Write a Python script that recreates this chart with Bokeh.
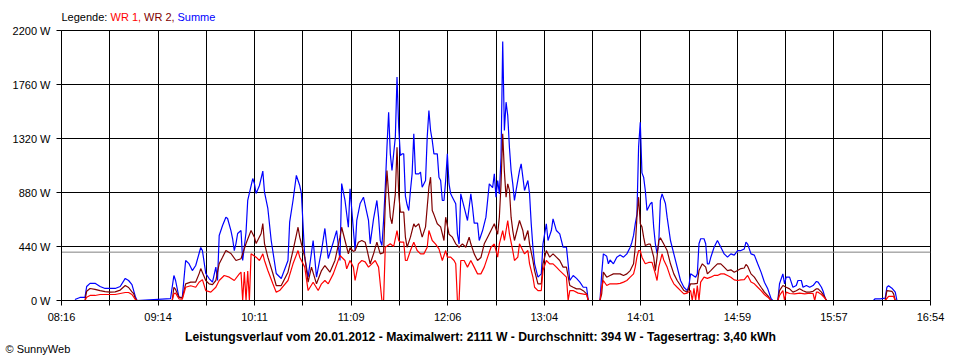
from bokeh.plotting import figure
from bokeh.models import Range1d, FixedTicker, CustomJSTickFormatter, Label, Span
from bokeh.embed import file_html
from bokeh.resources import INLINE

# ---------------- data ----------------
X_LABELS = ["08:16", "09:14", "10:11", "11:09", "12:06", "13:04", "14:01", "14:59", "15:57", "16:54"]
X_START, X_END = "08:16", "16:54"
X_GRID_STEPS = 18
Y_TICKS = [0, 440, 880, 1320, 1760, 2200]
Y_LABELS = ["0 W", "440 W", "880 W", "1320 W", "1760 W", "2200 W"]

DATE = "20.01.2012"
MAX_W = 2111
AVERAGE_W = 394
ENERGY_KWH = "3,40"

T_SUMME = ["08:24", "08:27", "08:30", "08:31", "08:33", "08:36", "08:39", "08:42", "08:45", "08:48",
           "08:51", "08:54", "08:56", "08:58", "09:00", "09:01", "09:21", "09:23", "09:24", "09:26",
           "09:28", "09:30", "09:32", "09:34", "09:36", "09:38", "09:39", "09:40", "09:42", "09:44",
           "09:46", "09:48", "09:49", "09:50", "09:52", "09:54", "09:55", "09:57", "09:58", "09:59",
           "10:00", "10:01", "10:03", "10:04", "10:06", "10:07", "10:10", "10:11", "10:12", "10:14",
           "10:16", "10:17", "10:19", "10:21", "10:24", "10:27", "10:31", "10:32", "10:34", "10:36",
           "10:38", "10:39", "10:41", "10:43", "10:46", "10:48", "10:51", "10:53", "10:55", "10:58",
           "11:00", "11:02", "11:03", "11:05", "11:07", "11:08", "11:11", "11:12", "11:14", "11:16",
           "11:19", "11:20", "11:22", "11:24", "11:25", "11:26", "11:27", "11:28", "11:29", "11:30",
           "11:31", "11:32", "11:33", "11:34", "11:35", "11:36", "11:37", "11:38", "11:39", "11:40",
           "11:41", "11:42", "11:43", "11:44", "11:45", "11:46", "11:47", "11:49", "11:50", "11:51",
           "11:53", "11:54", "11:55", "11:56", "11:57", "11:58", "12:00", "12:01", "12:02", "12:03",
           "12:04", "12:05", "12:06", "12:07", "12:08", "12:09", "12:11", "12:12", "12:13", "12:14",
           "12:16", "12:18", "12:20", "12:21", "12:22", "12:24", "12:25", "12:27", "12:29", "12:30",
           "12:31", "12:33", "12:34", "12:35", "12:36", "12:37", "12:38", "12:39", "12:40", "12:41",
           "12:42", "12:43", "12:44", "12:45", "12:46", "12:47", "12:48", "12:49", "12:50", "12:51",
           "12:52", "12:54", "12:55", "12:56", "12:57", "12:58", "13:00", "13:02", "13:03", "13:05",
           "13:06", "13:08", "13:09", "13:11", "13:13", "13:15", "13:17", "13:18", "13:19", "13:21",
           "13:23", "13:25", "13:27", "13:29", "13:30", "13:37", "13:38", "13:39", "13:41", "13:42",
           "13:43", "13:45", "13:47", "13:49", "13:51", "13:53", "13:55", "13:56", "13:57", "13:58",
           "13:59", "14:00", "14:01", "14:02", "14:03", "14:04", "14:05", "14:07", "14:08", "14:09",
           "14:10", "14:11", "14:12", "14:13", "14:14", "14:16", "14:17", "14:19", "14:21", "14:23",
           "14:25", "14:27", "14:29", "14:30", "14:31", "14:34", "14:35", "14:36", "14:37", "14:39",
           "14:40", "14:41", "14:42", "14:43", "14:45", "14:47", "14:48", "14:50", "14:51", "14:53",
           "14:55", "14:57", "14:59", "15:01", "15:03", "15:04", "15:05", "15:07", "15:09", "15:11",
           "15:13", "15:15", "15:17", "15:19", "15:20", "15:23", "15:24", "15:26", "15:27", "15:28",
           "15:30", "15:32", "15:34", "15:35", "15:37", "15:38", "15:40", "15:42", "15:44", "15:46",
           "15:47", "15:49", "15:50", "15:51", "15:52", "16:20", "16:21", "16:24", "16:27", "16:28",
           "16:29", "16:31", "16:33", "16:34"]
SUMME = [8, 25, 25, 114, 140, 140, 114, 98, 98, 98,
         114, 180, 163, 130, 33, 0, 16, 204, 163, 27,
         24, 326, 300, 244, 285, 383, 432, 407, 220, 179,
         149, 272, 163, 530, 611, 679, 668, 570, 503, 407,
         464, 546, 570, 326, 556, 815, 994, 953, 872, 937,
         1054, 883, 750, 489, 220, 179, 326, 638, 815, 1019,
         937, 872, 353, 190, 489, 190, 407, 587, 342, 475,
         570, 326, 953, 815, 597, 910, 407, 652, 790, 842,
         652, 462, 665, 815, 679, 489, 448, 652, 923, 1249,
         1534, 1195, 1059, 1198, 1330, 1820, 1412, 1181, 1195, 1195,
         850, 780, 733, 896, 1032, 1358, 1032, 1032, 1046, 923,
         978, 1331, 1548, 1385, 1304, 1195, 1195, 1005, 978, 815,
         815, 978, 1195, 950, 869, 842, 788, 543, 460, 869,
         760, 652, 869, 760, 630, 630, 489, 570, 679, 815,
         951, 920, 1032, 842, 978, 869, 1168, 2111, 1385, 1616,
         1507, 1249, 1059, 950, 815, 900, 978, 1059, 1114, 1005,
         896, 978, 869, 625, 434, 299, 190, 217, 462, 625,
         489, 570, 665, 570, 543, 434, 434, 299, 163, 204,
         180, 150, 108, 108, 0, 0, 217, 380, 360, 299,
         330, 299, 353, 370, 353, 380, 434, 475, 530, 625,
         700, 1250, 1453, 1040, 1005, 896, 733, 788, 800, 597,
         462, 383, 462, 815, 869, 790, 679, 489, 380, 272,
         163, 108, 81, 122, 217, 190, 217, 462, 503, 503,
         462, 299, 299, 350, 434, 489, 462, 407, 380, 353,
         380, 370, 407, 407, 420, 475, 460, 380, 370, 299,
         231, 149, 95, 14, 0, 0, 136, 217, 136, 190,
         190, 108, 122, 163, 163, 108, 122, 108, 122, 155,
         150, 108, 76, 27, 0, 0, 14, 14, 20, 108,
         120, 100, 68, 0]

T_WR2 = ["08:30", "08:31", "08:33", "08:36", "08:39", "08:42", "08:45", "08:48", "08:51", "08:54",
         "08:56", "08:58", "08:59", "09:00", "09:01", "09:22", "09:23", "09:24", "09:26", "09:28",
         "09:30", "09:33", "09:36", "09:38", "09:39", "09:42", "09:44", "09:46", "09:48", "09:50",
         "09:52", "09:54", "09:57", "10:00", "10:03", "10:06", "10:09", "10:11", "10:12", "10:15",
         "10:16", "10:17", "10:19", "10:22", "10:24", "10:27", "10:31", "10:34", "10:37", "10:38",
         "10:41", "10:43", "10:45", "10:48", "10:51", "10:53", "10:56", "10:59", "11:02", "11:03",
         "11:05", "11:07", "11:08", "11:10", "11:11", "11:13", "11:15", "11:17", "11:18", "11:20",
         "11:22", "11:24", "11:26", "11:28", "11:29", "11:30", "11:31", "11:32", "11:33", "11:35",
         "11:36", "11:37", "11:38", "11:40", "11:41", "11:42", "11:44", "11:46", "11:47", "11:49",
         "11:51", "11:53", "11:55", "11:56", "11:57", "11:58", "12:00", "12:02", "12:04", "12:05",
         "12:07", "12:09", "12:11", "12:13", "12:15", "12:17", "12:19", "12:20", "12:22", "12:24",
         "12:26", "12:28", "12:30", "12:32", "12:34", "12:36", "12:37", "12:38", "12:39", "12:40",
         "12:41", "12:42", "12:43", "12:44", "12:45", "12:46", "12:48", "12:49", "12:51", "12:52",
         "12:54", "12:55", "12:57", "12:58", "13:00", "13:02", "13:03", "13:05", "13:07", "13:09",
         "13:11", "13:13", "13:15", "13:17", "13:19", "13:21", "13:23", "13:25", "13:27", "13:29",
         "13:30", "13:37", "13:38", "13:39", "13:41", "13:43", "13:45", "13:47", "13:49", "13:51",
         "13:53", "13:55", "13:57", "13:58", "13:59", "14:00", "14:01", "14:02", "14:03", "14:04",
         "14:06", "14:07", "14:09", "14:10", "14:11", "14:12", "14:13", "14:15", "14:17", "14:19",
         "14:21", "14:23", "14:25", "14:27", "14:29", "14:31", "14:33", "14:35", "14:36", "14:38",
         "14:40", "14:41", "14:43", "14:45", "14:47", "14:49", "14:51", "14:53", "14:55", "14:57",
         "14:59", "15:01", "15:03", "15:04", "15:05", "15:07", "15:09", "15:11", "15:13", "15:15",
         "15:17", "15:19", "15:23", "15:24", "15:26", "15:28", "15:30", "15:32", "15:34", "15:36",
         "15:38", "15:40", "15:42", "15:44", "15:46", "15:47", "15:49", "15:51", "15:52", "16:27",
         "16:28", "16:31", "16:32", "16:33"]
WR2 = [0, 76, 98, 90, 81, 73, 68, 70, 85, 122,
       106, 70, 57, 16, 0, 0, 108, 90, 27, 20,
       136, 150, 150, 217, 260, 163, 136, 130, 163, 300,
       353, 407, 383, 326, 340, 464, 570, 516, 464, 546,
       627, 464, 353, 220, 122, 122, 231, 407, 597, 516,
       353, 149, 272, 136, 244, 285, 231, 326, 516, 597,
       489, 380, 430, 400, 407, 475, 489, 475, 420, 299,
       380, 475, 380, 390, 788, 1059, 869, 679, 625, 869,
       1249, 869, 720, 720, 516, 434, 516, 625, 600, 625,
       516, 600, 923, 1005, 733, 700, 625, 600, 489, 679,
       540, 516, 462, 434, 462, 434, 516, 462, 380, 326,
       350, 462, 516, 570, 625, 540, 679, 950, 1358, 1050,
       842, 951, 900, 679, 570, 489, 597, 652, 570, 489,
       570, 462, 326, 244, 136, 136, 299, 407, 353, 380,
       353, 326, 272, 272, 122, 108, 95, 95, 80, 54,
       0, 0, 54, 231, 190, 204, 217, 217, 217, 204,
       217, 244, 299, 434, 679, 842, 625, 600, 516, 448,
       460, 460, 353, 244, 353, 489, 510, 460, 407, 299,
       217, 163, 122, 81, 68, 136, 136, 140, 244, 299,
       272, 217, 244, 272, 299, 299, 272, 244, 250, 230,
       244, 260, 265, 293, 280, 217, 190, 149, 108, 68,
       40, 0, 0, 81, 122, 108, 95, 68, 80, 95,
       80, 68, 68, 75, 95, 95, 68, 27, 0, 0,
       81, 75, 54, 0]

T_WR1 = ["08:30", "08:31", "08:33", "08:36", "08:39", "08:42", "08:45", "08:48", "08:51", "08:54",
         "08:56", "08:58", "09:00", "09:01", "09:22", "09:23", "09:24", "09:26", "09:28", "09:30",
         "09:33", "09:36", "09:38", "09:40", "09:42", "09:45", "09:48", "09:50", "09:53", "09:56",
         "09:59", "10:02", "10:03", "10:04", "10:05", "10:06", "10:07", "10:08", "10:09", "10:12",
         "10:14", "10:16", "10:17", "10:19", "10:22", "10:24", "10:26", "10:31", "10:34", "10:37",
         "10:38", "10:41", "10:43", "10:46", "10:49", "10:51", "10:53", "10:55", "10:58", "11:02",
         "11:05", "11:06", "11:08", "11:10", "11:11", "11:13", "11:15", "11:17", "11:19", "11:21",
         "11:23", "11:25", "11:27", "11:28", "11:29", "11:32", "11:34", "11:36", "11:37", "11:38",
         "11:40", "11:41", "11:42", "11:44", "11:46", "11:48", "11:50", "11:52", "11:54", "11:55",
         "11:57", "11:59", "12:01", "12:03", "12:05", "12:06", "12:08", "12:10", "12:11", "12:12",
         "12:13", "12:14", "12:16", "12:18", "12:20", "12:22", "12:24", "12:26", "12:28", "12:30",
         "12:32", "12:34", "12:36", "12:37", "12:39", "12:40", "12:42", "12:43", "12:45", "12:46",
         "12:48", "12:49", "12:51", "12:52", "12:54", "12:55", "12:57", "12:58", "13:00", "13:02",
         "13:03", "13:05", "13:07", "13:09", "13:11", "13:13", "13:15", "13:17", "13:18", "13:19",
         "13:21", "13:24", "13:28", "13:29", "13:30", "13:37", "13:38", "13:39", "13:41", "13:43",
         "13:47", "13:49", "13:51", "13:53", "13:55", "13:57", "13:58", "13:59", "14:00", "14:01",
         "14:02", "14:04", "14:06", "14:08", "14:10", "14:11", "14:12", "14:14", "14:15", "14:17",
         "14:19", "14:21", "14:23", "14:25", "14:27", "14:29", "14:31", "14:32", "14:33", "14:34",
         "14:35", "14:36", "14:37", "14:39", "14:41", "14:43", "14:45", "14:47", "14:49", "14:51",
         "14:53", "14:55", "14:57", "14:59", "15:01", "15:03", "15:05", "15:07", "15:09", "15:11",
         "15:13", "15:15", "15:17", "15:19", "15:23", "15:24", "15:26", "15:27", "15:28", "15:30",
         "15:33", "15:36", "15:39", "15:41", "15:44", "15:45", "15:46", "15:47", "15:49", "15:51",
         "15:52", "16:27", "16:29", "16:32", "16:33"]
WR1 = [0, 27, 41, 41, 49, 49, 49, 49, 57, 65,
       65, 49, 8, 0, 0, 57, 60, 14, 10, 108,
       120, 108, 149, 170, 81, 68, 108, 163, 204, 190,
       163, 217, 231, 0, 231, 0, 240, 0, 380, 353,
       326, 380, 326, 244, 136, 68, 81, 163, 299, 407,
       353, 272, 81, 149, 81, 136, 163, 136, 217, 367,
       326, 258, 326, 272, 163, 299, 326, 315, 272, 299,
       326, 272, 0, 0, 434, 462, 440, 570, 489, 475,
       475, 326, 326, 407, 475, 407, 380, 380, 434, 570,
       489, 460, 420, 326, 407, 353, 353, 326, 300, 0,
       0, 326, 326, 272, 326, 272, 217, 217, 272, 353,
       434, 460, 353, 462, 570, 489, 652, 543, 407, 326,
       353, 462, 407, 380, 407, 299, 190, 108, 81, 81,
       244, 326, 299, 299, 272, 244, 217, 190, 0, 81,
       81, 60, 50, 50, 0, 0, 108, 163, 122, 136,
       136, 140, 150, 163, 190, 217, 272, 353, 407, 407,
       353, 299, 310, 310, 217, 163, 272, 380, 330, 272,
       190, 136, 108, 81, 54, 60, 81, 0, 100, 0,
       122, 0, 150, 190, 180, 190, 204, 204, 217, 217,
       204, 190, 168, 163, 168, 170, 204, 150, 136, 108,
       81, 49, 27, 0, 0, 41, 81, 0, 68, 57,
       54, 60, 54, 57, 57, 0, 68, 68, 49, 20,
       0, 0, 33, 33, 0]

SERIES = [("Summe", T_SUMME, SUMME, "#0000FF"),
          ("WR 2", T_WR2, WR2, "#800000"),
          ("WR 1", T_WR1, WR1, "#FF0000")]


def minutes(s):
    h, m = s.split(":")
    return int(h) * 60 + int(m)


x0, x1 = minutes(X_START), minutes(X_END)
step = (x1 - x0) / X_GRID_STEPS
x_ticks = [x0 + i * step for i in range(X_GRID_STEPS + 1)]

FONT = "Liberation Sans"
W = 952
TOP_H = 24
MAIN_H = 304       # 6 (border) + 270 (frame) + 28 (tick labels)
BOT_H = 32


def text_strip(height):
    f = figure(width=W, height=height, x_range=Range1d(0, W), y_range=Range1d(height, 0),
               x_axis_type=None, y_axis_type=None, output_backend="svg", toolbar_location=None,
               min_border=0, min_border_left=0, min_border_right=0, min_border_top=0,
               min_border_bottom=0)
    f.outline_line_color = None
    f.background_fill_color = "white"
    f.border_fill_color = "white"
    f.grid.visible = False
    return f


# ---- top strip: legend ----
top = text_strip(TOP_H)
legend_parts = [("Legende:", "black", 61), ("WR 1,", "#FF0000", 110), ("WR 2,", "#800000", 143.5),
                ("Summe", "#0000FF", 177)]
for txt, col, xp in legend_parts:
    top.add_layout(Label(x=xp, y=16.5, text=txt, text_color=col, text_font=FONT,
                         text_font_size="11px", text_baseline="middle", text_align="left"))

# ---- main chart ----
p = figure(width=W, height=MAIN_H, x_range=Range1d(x0, x1), y_range=Range1d(0, 2200),
           output_backend="svg", toolbar_location=None,
           min_border_left=61, min_border_right=22, min_border_top=6, min_border_bottom=28)
p.background_fill_color = "white"
p.border_fill_color = "white"
p.outline_line_color = "black"
p.outline_line_width = 1

p.xaxis.ticker = FixedTicker(ticks=x_ticks)
p.xaxis.formatter = CustomJSTickFormatter(
    args=dict(labels=X_LABELS, start=x0, step=step),
    code="const i = Math.round((tick - start) / step); return (i % 2 == 0) ? labels[i / 2] : '';")
p.yaxis.ticker = FixedTicker(ticks=Y_TICKS)
p.yaxis.major_label_overrides = {t: l for t, l in zip(Y_TICKS, Y_LABELS)}
for ax in (p.xaxis[0], p.yaxis[0]):
    ax.axis_line_color = "black"
    ax.major_tick_line_color = "black"
    ax.minor_tick_line_color = None
    ax.major_tick_out = 5
    ax.major_tick_in = 0
    ax.major_label_text_font = FONT
    ax.major_label_text_font_size = "11px"
    ax.major_label_text_color = "black"
p.xaxis.major_label_standoff = 5
p.yaxis.major_label_standoff = 6

p.xgrid.ticker = FixedTicker(ticks=x_ticks)
p.ygrid.ticker = FixedTicker(ticks=Y_TICKS)
for g in (p.xgrid[0], p.ygrid[0]):
    g.grid_line_color = "black"
    g.grid_line_alpha = 1.0
    g.grid_line_width = 1

p.add_layout(Span(location=AVERAGE_W, dimension="width", line_color="#808080",
                  line_width=1, level="underlay"))

for name, ts, vals, col in SERIES:
    p.line([minutes(t) for t in ts], vals, line_color=col, line_width=1.2)

# ---- bottom strip: summary + copyright ----
bot = text_strip(BOT_H)
summary = (f"Leistungsverlauf vom {DATE} - Maximalwert: {MAX_W} W - "
           f"Durchschnitt: {AVERAGE_W} W - Tagesertrag: {ENERGY_KWH} kWh")
bot.add_layout(Label(x=480, y=8, text=summary, text_color="black", text_font=FONT,
                     text_font_size="12.2px", text_font_style="bold",
                     text_baseline="middle", text_align="center"))
bot.add_layout(Label(x=5, y=20, text="\u00a9 SunnyWeb", text_color="black", text_font=FONT,
                     text_font_size="11px", text_baseline="middle", text_align="left"))

# separate roots, stacked vertically (no frame alignment between them)
open("out.html", "w").write(file_html([top, p, bot], INLINE))
